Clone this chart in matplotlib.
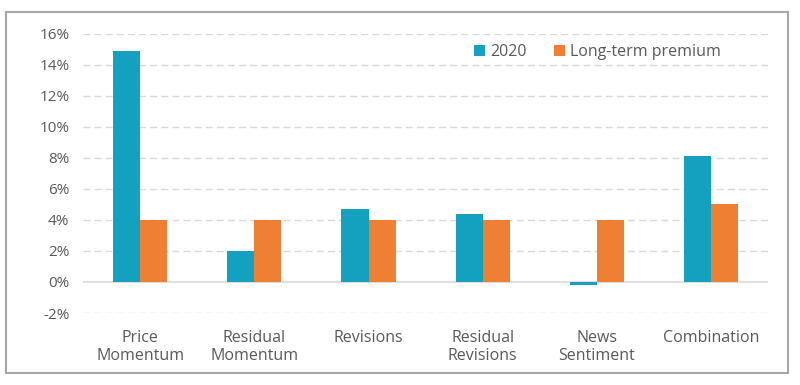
import matplotlib.pyplot as plt
import matplotlib.patches as mpatches
from matplotlib.ticker import FuncFormatter
import numpy as np

categories = ["Price\nMomentum", "Residual\nMomentum", "Revisions",
              "Residual\nRevisions", "News\nSentiment", "Combination"]
values_2020 = [14.9, 2.0, 4.7, 4.4, -0.2, 8.15]
long_term = [4.0, 4.0, 4.0, 4.0, 4.0, 5.0]

teal = "#14A1C0"
orange = "#EE7F33"
grey_text = "#595959"

plt.rcParams['font.family'] = ['Open Sans', 'DejaVu Sans']

fig = plt.figure(figsize=(8, 3.85), dpi=100)
ax = fig.add_axes([0.104, 0.187, 0.856, 0.725])

# Outer frame around the chart
fig.patches.append(mpatches.Rectangle((6 / 800, 12 / 385), 782 / 800, 361 / 385,
                                      transform=fig.transFigure, fill=False,
                                      edgecolor="#A6A6A6", linewidth=1.5))

x = np.arange(len(categories))
w = 0.237
ax.bar(x - w / 2, values_2020, width=w, color=teal, label="2020", zorder=3)
ax.bar(x + w / 2, long_term, width=w, color=orange, label="Long-term premium", zorder=3)

ax.set_xlim(-0.5, len(categories) - 0.5)
ax.set_ylim(-2, 16)
ax.set_yticks(range(-2, 17, 2))
ax.yaxis.set_major_formatter(FuncFormatter(lambda v, p: f"{v:.0f}%"))
ax.set_xticks(x)
ax.set_xticklabels(categories)

# Gridlines: dashed, solid at zero
for yv in range(-2, 17, 2):
    if yv == 0:
        ax.axhline(0, color="#D9D9D9", linewidth=1.2, zorder=2)
    else:
        ax.axhline(yv, color="#D9D9D9", linewidth=1, linestyle=(0, (5, 3)), zorder=1)

for s in ax.spines.values():
    s.set_visible(False)
ax.tick_params(axis='both', length=0, labelsize=11, colors=grey_text)
ax.tick_params(axis='x', pad=12, labelsize=11.5)
ax.tick_params(axis='y', pad=10)

ax.legend(loc="upper right", bbox_to_anchor=(0.952, 1.015), ncol=2, frameon=False,
          fontsize=11.5, labelcolor=grey_text, handlelength=0.7, handleheight=0.7,
          handletextpad=0.3, columnspacing=1.7)

fig.savefig("out.png", dpi=100)
